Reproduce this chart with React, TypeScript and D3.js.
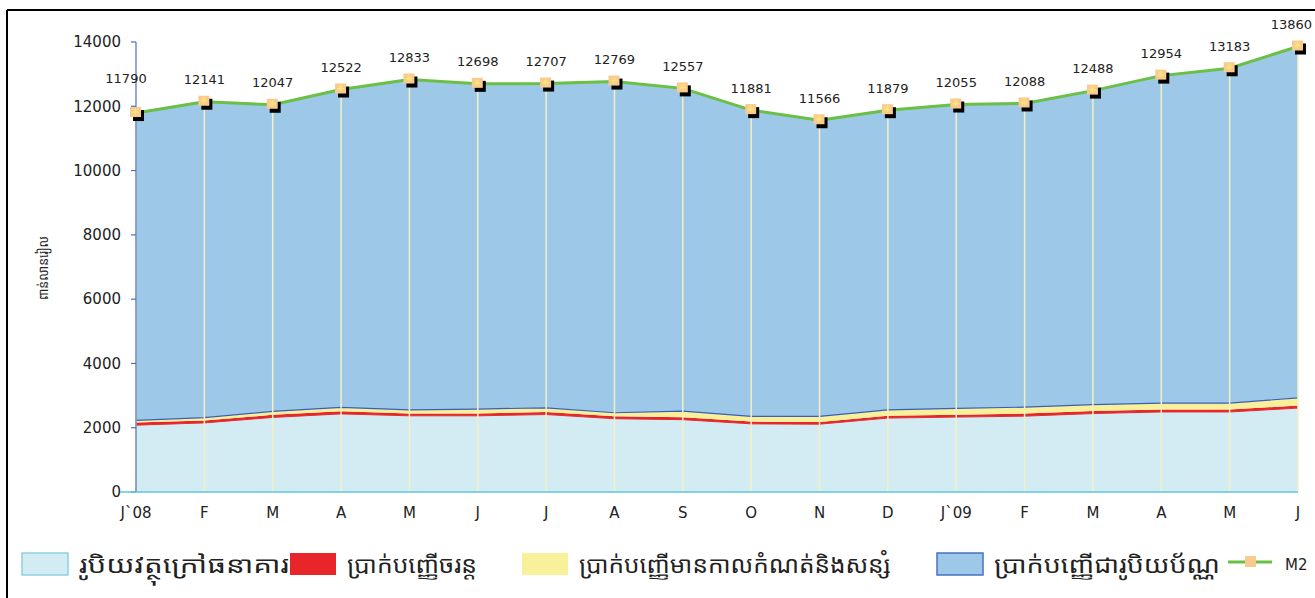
import React from 'react';
import { scalePoint, scaleLinear, stack, area, line } from 'd3';

const months = ['J`08', 'F', 'M', 'A', 'M', 'J', 'J', 'A', 'S', 'O', 'N', 'D', 'J`09', 'F', 'M', 'A', 'M', 'J'];
const currencyOutside = [2080, 2150, 2320, 2430, 2370, 2370, 2410, 2280, 2250, 2120, 2110, 2300, 2330, 2360, 2440, 2490, 2490, 2610];
const demandDeposits = [80, 75, 80, 80, 75, 75, 80, 75, 75, 70, 70, 75, 75, 80, 80, 75, 75, 80];
const timeSavings = [70, 90, 110, 120, 110, 135, 130, 110, 190, 160, 170, 180, 195, 200, 200, 200, 200, 240];
const foreignDeposits = [9560, 9826, 9537, 9892, 10278, 10118, 10087, 10304, 10042, 9531, 9216, 9324, 9455, 9448, 9768, 10189, 10418, 10930];
const m2 = [11790, 12141, 12047, 12522, 12833, 12698, 12707, 12769, 12557, 11881, 11566, 11879, 12055, 12088, 12488, 12954, 13183, 13860];
const yTicks = [0, 2000, 4000, 6000, 8000, 10000, 12000, 14000];

const legendNames = ['រូបិយវត្ថុក្រៅធនាគារ', 'ប្រាក់បញ្ញើចរន្ត', 'ប្រាក់បញ្ញើមានកាលកំណត់និងសន្សំ', 'ប្រាក់បញ្ញើជារូបិយប័ណ្ណ'];
const yTitle = 'ពាន់លានរៀល';

const keys = ['currency', 'demand', 'time', 'foreign'];
const fills = ['#d3ecf3', '#e8262a', '#f8f19a', '#9dc8e8'];
const khmerFont = "'Noto Sans Khmer', 'Khmer OS', 'Noto Sans', sans-serif";
const numFont = "'DejaVu Sans', sans-serif";

const W = 1315, H = 598;

export default function App() {
  const idx = months.map((_, i) => i);
  const x = scalePoint<number>().domain(idx).range([136, 1298]);
  const y = scaleLinear().domain([0, 14000]).range([492, 42]);

  const table = idx.map(i => ({
    currency: currencyOutside[i], demand: demandDeposits[i], time: timeSavings[i], foreign: foreignDeposits[i],
  }));
  const series = stack<any>().keys(keys)(table);

  const areaGen = area<any>()
    .x((d, i) => x(i) as number)
    .y0(d => y(d[0]))
    .y1(d => y(d[1]));
  const lowerLine = line<any>().x((d, i) => x(i) as number).y(d => y(d[0]));
  const m2Line = line<number>().x((d, i) => x(i) as number).y(d => y(d));

  // legend layout
  const legendX = [22, 290, 522, 937];
  const legendW = [210, 130, 312, 226];

  return (
    <svg width={W} height={H} style={{ position: 'absolute', left: 0, top: 0, background: '#fff' }}>
      {/* frame */}
      <line x1={7} x2={W} y1={10} y2={10} stroke="#000" strokeWidth={2} />
      <line x1={7} x2={7} y1={10} y2={H} stroke="#000" strokeWidth={2} />

      {/* stacked areas */}
      {series.map((s, k) => (
        <path key={keys[k]} d={areaGen(s as any) || ''} fill={fills[k]} />
      ))}
      <path d={lowerLine(series[3] as any) || ''} fill="none" stroke="#3b5fb5" strokeWidth={1.2} />
      <path d={lowerLine(series[1] as any) || ''} fill="none" stroke="#e03030" strokeWidth={1} />

      {/* vertical drop lines */}
      {idx.map(i => (
        <line key={'v' + i} x1={x(i)} x2={x(i)} y1={y(0)} y2={y(m2[i])} stroke="#f4f0c4" strokeWidth={1.5} />
      ))}

      {/* y axis */}
      <line x1={136} x2={136} y1={y(14000)} y2={y(0)} stroke="#4a6fc0" strokeWidth={1.2} />
      {yTicks.map(t => (
        <g key={'yt' + t}>
          <line x1={131} x2={136} y1={y(t)} y2={y(t)} stroke="#4a6fc0" strokeWidth={1.2} />
          <text x={121} y={y(t)} dy="0.35em" textAnchor="end" fontSize={15} fontFamily={numFont} fill="#222">{t}</text>
        </g>
      ))}
      <text transform={`translate(48,268) rotate(-90)`} textAnchor="middle" fontSize={14} fontFamily={khmerFont} fill="#222"
        textLength={64} lengthAdjust="spacingAndGlyphs">{yTitle}</text>

      {/* x axis */}
      <line x1={120} x2={1298} y1={y(0)} y2={y(0)} stroke="#5bc8dc" strokeWidth={1.5} />
      {months.map((m, i) => (
        <text key={'xl' + i} x={x(i)} y={518} textAnchor="middle" fontSize={15} fontFamily={numFont} fill="#222">{m}</text>
      ))}

      {/* M2 line */}
      <path d={m2Line(m2) || ''} fill="none" stroke="#6abf45" strokeWidth={3} />
      {m2.map((v, i) => {
        const cx = x(i) as number, cy = y(v);
        const first = i === 0, last = i === m2.length - 1;
        const lx = first ? cx - 10 : last ? 1312 : cx;
        const ly = first ? cy - 35 : cy - 22;
        return (
          <g key={'mk' + i}>
            <rect x={cx - 3} y={cy - 3} width={11} height={11} fill="#000" />
            <rect x={cx - 6} y={cy - 6} width={11} height={10} fill="#f9c98e" />
            <path d={`M${cx - 4},${cy - 1}h7M${cx - 0.5},${cy - 5}v7M${cx - 3},${cy - 4}l5,5M${cx + 2},${cy - 4}l-5,5`} stroke="#fbe87a" strokeWidth={1} />
            <text x={lx} y={ly} dy="0.35em" textAnchor={last ? 'end' : 'middle'} fontSize={13} fontFamily={numFont} fill="#222">{v}</text>
          </g>
        );
      })}

      {/* legend */}
      {legendNames.map((n, k) => (
        <g key={'lg' + k}>
          <rect x={legendX[k]} y={553} width={46} height={22} fill={fills[k]}
            stroke={k === 0 ? '#8fd0e0' : k === 3 ? '#4a6fc0' : 'none'} strokeWidth={1.5} />
          <text x={legendX[k] + 57} y={573} fontSize={23} fontFamily={khmerFont} fill="#222"
            textLength={legendW[k]} lengthAdjust="spacingAndGlyphs">{n}</text>
        </g>
      ))}
      <line x1={1228} x2={1272} y1={562} y2={562} stroke="#6abf45" strokeWidth={3} />
      <rect x={1245} y={556} width={11} height={11} fill="#f9c98e" />
      <text x={1285} y={570} fontSize={15} fontFamily={numFont} fill="#222">M2</text>
    </svg>
  );
}
